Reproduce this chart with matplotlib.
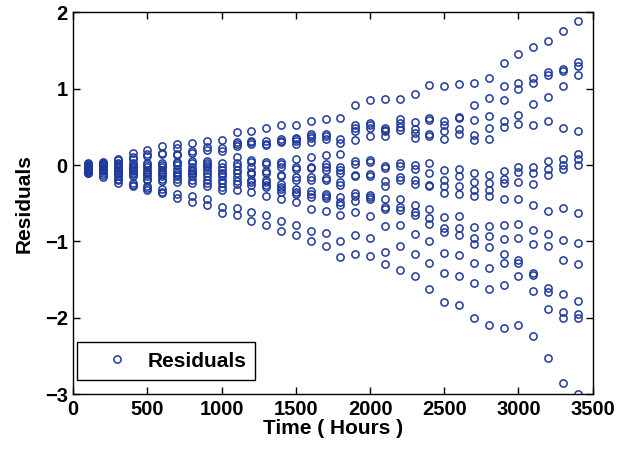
import matplotlib
matplotlib.use('Agg')
import matplotlib.pyplot as plt

plt.rcParams['font.family'] = ['Liberation Sans', 'DejaVu Sans']
plt.rcParams['font.weight'] = 'bold'

# inspection times (hours)
times = [100, 200, 300, 400, 500, 600, 700, 800, 900, 1000, 1100, 1200,
         1300, 1400, 1500, 1600, 1700, 1800, 1900, 2000, 2100, 2200, 2300,
         2400, 2500, 2600, 2700, 2800, 2900, 3000, 3100, 3200, 3300, 3400]

res_100 = [0.02, 0.01, 0.0, -0.01, -0.02, -0.03, -0.04, -0.05, -0.06, -0.07, -0.08, -0.09, -0.10, -0.11, -0.03]
res_200 = [0.04, 0.03, 0.02, 0.01, 0.0, -0.01, -0.02, -0.03, -0.04, -0.05, -0.06, -0.08, -0.10, -0.13, -0.16]
res_300 = [0.08, 0.06, 0.03, 0.01, 0.0, -0.02, -0.04, -0.06, -0.08, -0.10, -0.12, -0.14, -0.18, -0.20, -0.23]
res_400 = [0.16, 0.11, 0.08, 0.02, 0.0, -0.02, -0.04, -0.06, -0.08, -0.10, -0.12, -0.14, -0.24, -0.26, -0.28]
res_500 = [0.20, 0.15, 0.12, 0.02, 0.0, -0.03, -0.06, -0.09, -0.12, -0.15, -0.18, -0.20, -0.28, -0.30, -0.33]
res_600 = [0.25, 0.16, 0.14, 0.03, 0.0, -0.03, -0.06, -0.09, -0.12, -0.15, -0.18, -0.21, -0.32, -0.35, -0.37]
res_700 = [0.27, 0.22, 0.15, 0.13, 0.04, 0.02, 0.0, -0.05, -0.09, -0.12, -0.14, -0.18, -0.22, -0.38, -0.43]
res_800 = [0.29, 0.18, 0.16, 0.05, 0.02, -0.03, -0.06, -0.08, -0.10, -0.12, -0.15, -0.19, -0.24, -0.41, -0.49]
res_900 = [0.32, 0.24, 0.20, 0.05, 0.02, 0.0, -0.02, -0.06, -0.10, -0.15, -0.19, -0.23, -0.28, -0.45, -0.53]
res_1000 = [0.325, 0.22, 0.18, 0.02, -0.02, -0.06, -0.10, -0.12, -0.15, -0.19, -0.24, -0.29, -0.33, -0.55, -0.63]
res_1100 = [0.43, 0.30, 0.27, 0.25, 0.10, 0.03, -0.01, -0.07, -0.11, -0.16, -0.21, -0.25, -0.33, -0.56, -0.66]
res_1200 = [0.45, 0.32, 0.30, 0.28, 0.07, 0.04, -0.02, -0.09, -0.12, -0.19, -0.22, -0.26, -0.36, -0.61, -0.73]
res_1300 = [0.49, 0.31, 0.28, 0.26, 0.04, 0.01, -0.08, -0.11, -0.20, -0.22, -0.26, -0.29, -0.40, -0.66, -0.78]
res_1400 = [0.53, 0.34, 0.32, 0.30, 0.04, 0.01, -0.02, -0.13, -0.15, -0.25, -0.29, -0.32, -0.36, -0.45, -0.73, -0.86]
res_1500 = [0.53, 0.36, 0.34, 0.31, 0.28, 0.08, -0.03, -0.05, -0.16, -0.19, -0.31, -0.35, -0.38, -0.49, -0.79, -0.92]
res_1600 = [0.57, 0.40, 0.38, 0.35, 0.30, 0.10, -0.02, -0.04, -0.16, -0.19, -0.34, -0.38, -0.42, -0.57, -0.87, -1.00]
res_1700 = [0.605, 0.40, 0.38, 0.34, 0.13, 0.01, -0.03, -0.06, -0.17, -0.20, -0.38, -0.40, -0.43, -0.605, -0.89, -1.06]
res_1800 = [0.62, 0.34, 0.29, 0.15, -0.03, -0.07, -0.105, -0.22, -0.26, -0.42, -0.48, -0.53, -0.66, -0.99, -1.21]
res_1900 = [0.78, 0.52, 0.49, 0.45, 0.325, 0.053, 0.018, -0.13, -0.15, -0.37, -0.40, -0.47, -0.62, -0.92, -1.16]
res_2000 = [0.85, 0.55, 0.52, 0.49, 0.38, 0.07, 0.035, -0.12, -0.145, -0.39, -0.42, -0.45, -0.67, -0.95, -1.19]
res_2100 = [0.87, 0.48, 0.46, 0.44, 0.38, -0.01, -0.04, -0.21, -0.27, -0.44, -0.55, -0.57, -0.80, -1.14, -1.30]
res_2200 = [0.86, 0.60, 0.55, 0.50, 0.46, 0.03, -0.01, -0.16, -0.19, -0.45, -0.55, -0.59, -0.79, -1.06, -1.37]
res_2300 = [0.93, 0.56, 0.47, 0.42, 0.36, 0.0, -0.05, -0.20, -0.25, -0.52, -0.61, -0.66, -0.91, -1.17, -1.46]
res_2400 = [1.05, 0.61, 0.585, 0.40, 0.38, 0.02, -0.11, -0.26, -0.27, -0.57, -0.69, -0.77, -0.99, -1.28, -1.63]
res_2500 = [1.035, 0.58, 0.53, 0.44, 0.34, -0.06, -0.19, -0.28, -0.37, -0.68, -0.82, -0.88, -1.15, -1.42, -1.79]
res_2600 = [1.066, 0.63, 0.615, 0.47, 0.40, -0.05, -0.15, -0.27, -0.38, -0.67, -0.83, -0.92, -1.18, -1.46, -1.84]
res_2700 = [1.075, 0.785, 0.59, 0.39, 0.33, -0.11, -0.22, -0.33, -0.40, -0.81, -0.95, -1.03, -1.28, -1.54, -2.00]
res_2800 = [1.145, 0.88, 0.64, 0.49, 0.34, -0.135, -0.24, -0.33, -0.40, -0.80, -0.93, -1.08, -1.355, -1.63, -2.10]
res_2900 = [1.33, 1.03, 0.85, 0.57, 0.50, -0.08, -0.18, -0.23, -0.45, -0.79, -0.97, -1.17, -1.29, -1.57, -2.13]
res_3000 = [1.45, 1.08, 0.99, 0.66, 0.54, -0.03, -0.09, -0.22, -0.45, -0.77, -0.96, -1.24, -1.29, -1.455, -2.10]
res_3100 = [1.545, 1.14, 1.08, 0.80, 0.53, -0.03, -0.11, -0.245, -0.52, -0.85, -1.04, -1.41, -1.44, -1.65, -2.24]
res_3200 = [1.62, 1.22, 1.18, 0.89, 0.57, 0.05, -0.05, -0.13, -0.60, -0.91, -1.06, -1.605, -1.66, -1.88, -2.53]
res_3300 = [1.76, 1.26, 1.23, 1.04, 0.49, 0.08, 0.0, -0.05, -0.56, -0.98, -1.245, -1.69, -1.92, -2.01, -2.85]
res_3400 = [1.88, 1.35, 1.30, 1.18, 0.45, 0.14, 0.075, 0.0, -0.63, -1.02, -1.30, -1.78, -1.95, -2.00, -3.00]

residuals = [res_100, res_200, res_300, res_400, res_500, res_600, res_700,
             res_800, res_900, res_1000, res_1100, res_1200, res_1300,
             res_1400, res_1500, res_1600, res_1700, res_1800, res_1900,
             res_2000, res_2100, res_2200, res_2300, res_2400, res_2500,
             res_2600, res_2700, res_2800, res_2900, res_3000, res_3100,
             res_3200, res_3300, res_3400]

xs = []
ys = []
for t, r in zip(times, residuals):
    xs += [t] * len(r)
    ys += r

fig = plt.figure(figsize=(6.39, 4.53), dpi=100)
ax = fig.add_axes([0.1147, 0.1302, 0.8128, 0.8426])
ax.plot(xs, ys, 'o', markerfacecolor='none', markeredgecolor='#1f3a9c',
        markersize=5.2, markeredgewidth=1.1, linestyle='none', label='Residuals')

ax.set_xlim(0, 3500)
ax.set_ylim(-3, 2)
ax.set_xticks(range(0, 3501, 500))
ax.set_yticks(range(-3, 3))
ax.set_yticklabels(['\u22123', '\u22122', '\u22121', '0', '1', '2'])
ax.tick_params(direction='in', top=True, right=True, labelsize=14.5, length=5, width=1, pad=4)
for lab in ax.get_xticklabels() + ax.get_yticklabels():
    lab.set_fontweight('bold')
for s in ax.spines.values():
    s.set_linewidth(1.0)

ax.set_xlabel('Time ( Hours )', fontsize=15, fontweight='bold', labelpad=0)
ax.set_ylabel('Residuals', fontsize=15, fontweight='bold', labelpad=8)

leg = ax.legend(loc='lower left', bbox_to_anchor=(0.008, 0.037), fancybox=False,
                edgecolor='black', framealpha=1, borderpad=0.45, handlelength=2.9,
                handletextpad=0.0, borderaxespad=0,
                prop={'weight': 'bold', 'size': 15})
leg.get_frame().set_linewidth(1.0)

fig.savefig('out.png', dpi=100)
